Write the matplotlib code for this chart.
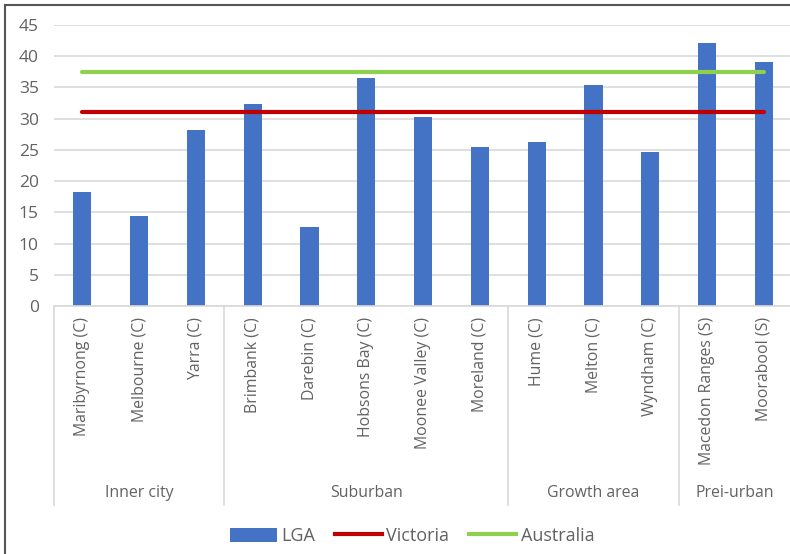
import matplotlib
matplotlib.use("Agg")
import matplotlib.pyplot as plt
from matplotlib.lines import Line2D
from matplotlib.patches import Patch
import matplotlib.transforms as mtransforms

plt.rcParams['font.family'] = ['Open Sans', 'DejaVu Sans']

# LGA values with state / national benchmarks
lgas = ["Maribyrnong (C)", "Melbourne (C)", "Yarra (C)",
        "Brimbank (C)", "Darebin (C)", "Hobsons Bay (C)", "Moonee Valley (C)", "Moreland (C)",
        "Hume (C)", "Melton (C)", "Wyndham (C)",
        "Macedon Ranges (S)", "Moorabool (S)"]
lga_values = [18.3, 14.4, 28.2, 32.3, 12.7, 36.5, 30.2, 25.5, 26.3, 35.4, 24.7, 42.1, 39.0]
victoria = 31.0
australia = 37.4

groups = ["Inner city", "Suburban", "Growth area", "Prei-urban"]
group_sizes = [3, 5, 3, 2]

TEXT = "#626262"
GRID = "#d9d9d9"

fig = plt.figure(figsize=(7.9, 5.54), dpi=100)
ax = fig.add_axes([54 / 790, 1 - 306 / 554, 1 - 54 / 790, 281 / 554])

x = list(range(len(lgas)))
ax.bar(x, lga_values, width=0.32, color="#4472c4", zorder=2)
ax.plot(x, [victoria] * len(x), color="#c00000", lw=3, solid_capstyle="round", zorder=3)
ax.plot(x, [australia] * len(x), color="#8fd14f", lw=3, solid_capstyle="round", zorder=3)

ax.set_ylim(0, 45)
ax.set_xlim(-0.5, 12.46)
ax.set_yticks(range(0, 46, 5))
ax.yaxis.grid(True, color=GRID, lw=1.2, zorder=0)
ax.set_axisbelow(True)
for side in ["top", "right", "left"]:
    ax.spines[side].set_visible(False)
ax.spines["bottom"].set_color(GRID)
ax.spines["bottom"].set_linewidth(1.2)

ax.tick_params(axis="y", length=0, pad=11, labelsize=12.5, labelcolor=TEXT)
ax.set_xticks(x)
ax.set_xticklabels(lgas, rotation=90, fontsize=11.4, color=TEXT)
ax.tick_params(axis="x", length=0, pad=8)

# group separators and group names under the category labels
trans = mtransforms.blended_transform_factory(ax.transData, ax.transAxes)
sep_bottom = (306 - 505) / 281
label_y = (306 - 493) / 281
start = -0.5
for name, size in zip(groups, group_sizes):
    ax.plot([start, start], [0, sep_bottom], color=GRID, lw=1.2, transform=trans, clip_on=False)
    end = min(start + size, 12.46)
    ax.text((start + end) / 2, label_y, name, transform=trans, ha="center", va="center",
            fontsize=11.4, color=TEXT)
    start += size

handles = [Patch(facecolor="#4472c4"),
           Line2D([0], [0], color="#c00000", lw=3),
           Line2D([0], [0], color="#8fd14f", lw=3)]
fig.legend(handles, ["LGA", "Victoria", "Australia"], ncol=3, frameon=False,
           loc="center", bbox_to_anchor=(412 / 790, 1 - 536 / 554),
           fontsize=13, labelcolor=TEXT, handlelength=2.6, handleheight=0.8,
           handletextpad=0.25, columnspacing=1.1)

# outer chart frame
fig.add_artist(Line2D([5 / 790, 5 / 790], [0, 1 - 5 / 554], color="#555555", lw=1.5))
fig.add_artist(Line2D([5 / 790, 1], [1 - 5 / 554, 1 - 5 / 554], color="#555555", lw=1.5))

fig.savefig("out.png", dpi=100)
